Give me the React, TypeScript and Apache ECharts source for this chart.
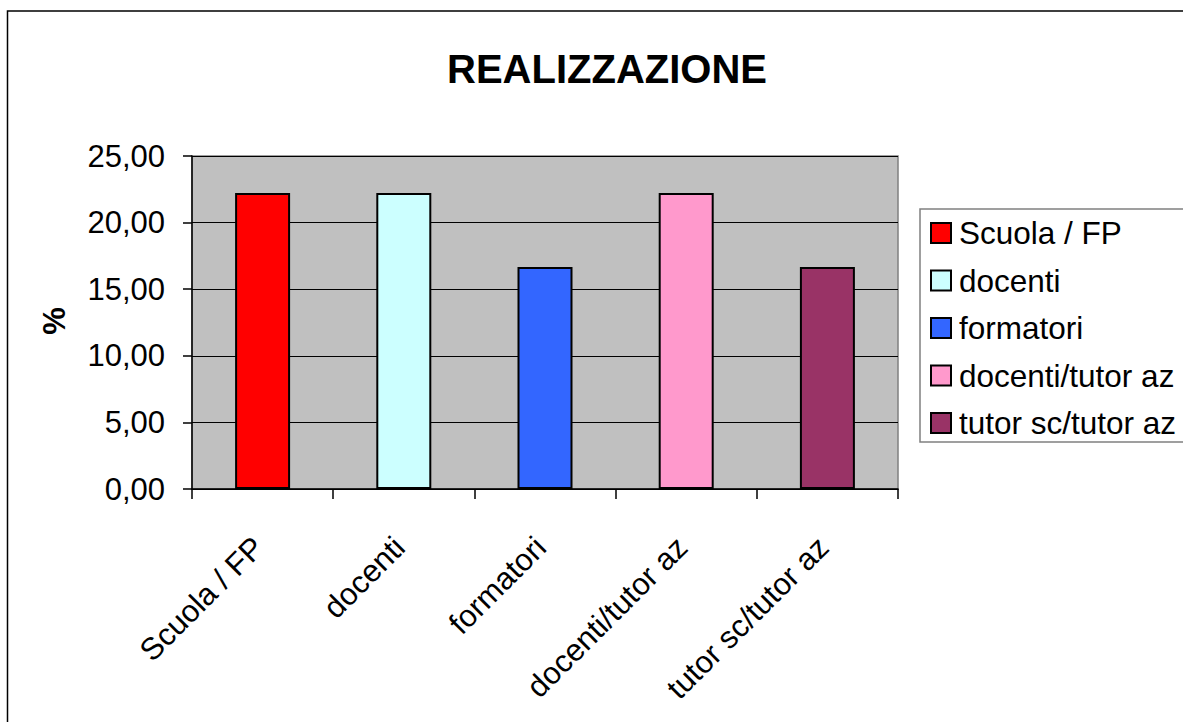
import React, { useEffect, useRef } from "react";
import * as echarts from "echarts";

const titleText = "REALIZZAZIONE";
const yAxisTitle = "%";
const categories = ["Scuola / FP", "docenti", "formatori", "docenti/tutor az", "tutor sc/tutor az"];
const values = [22.22, 22.22, 16.67, 22.22, 16.67];
const colors = ["#FF0000", "#CCFFFF", "#3366FF", "#FF99CC", "#993366"];
const yMin = 0;
const yMax = 25;
const yStep = 5;

const FONT = "'Liberation Sans', Arial, sans-serif";

export default function App() {
  const ref = useRef<HTMLDivElement>(null);
  useEffect(() => {
    if (!ref.current) return;
    const chart = echarts.init(ref.current, undefined, { renderer: "svg" });
    chart.setOption({
      animation: false,
      backgroundColor: "#ffffff",
      title: {
        text: titleText,
        left: 602,
        top: 43.5,
        textAlign: "center",
        textStyle: { fontFamily: FONT, fontSize: 40, fontWeight: "bold", color: "#000", lineHeight: 40 },
      },
      graphic: [
        {
          type: "rect",
          shape: { x: 7.5, y: 11, width: 1400, height: 900 },
          style: { fill: "none", stroke: "#000", lineWidth: 1.5 },
          silent: true,
          z: -10,
        },
        {
          type: "text",
          x: 54,
          y: 321,
          rotation: Math.PI / 2,
          style: {
            text: yAxisTitle,
            font: `bold 31px ${FONT}`,
            fill: "#000",
            textAlign: "center",
            textVerticalAlign: "middle",
          },
        },
      ],
      legend: {
        orient: "vertical",
        left: 920,
        top: 209,
        data: categories,
        icon: "rect",
        itemWidth: 20,
        itemHeight: 20,
        itemGap: 15.5,
        padding: [8, 30, 3, 10],
        backgroundColor: "#ffffff",
        borderColor: "#808080",
        borderWidth: 1.5,
        borderRadius: 0,
        textStyle: { fontFamily: FONT, fontSize: 31.5, color: "#000", lineHeight: 31, padding: [0, 0, 0, 3] },
        selectedMode: false,
      },
      grid: {
        left: 192,
        top: 156,
        right: 1183 - 898,
        bottom: 722 - 489,
        show: true,
        backgroundColor: "#C0C0C0",
        borderColor: "#808080",
        borderWidth: 1.5,
        containLabel: false,
      },
      xAxis: {
        type: "category",
        data: categories,
        axisLine: { show: true, lineStyle: { color: "#000", width: 1.5 } },
        axisTick: { show: true, length: 10, interval: 0, alignWithLabel: false, lineStyle: { color: "#000", width: 1.5 } },
        axisLabel: {
          interval: 0,
          rotate: 45,
          margin: 49,
          padding: [0, 6, 13, 0],
          fontFamily: FONT,
          fontSize: 31,
          color: "#000",
        },
        splitLine: { show: false },
      },
      yAxis: {
        type: "value",
        min: yMin,
        max: yMax,
        interval: yStep,
        axisLine: { show: true, lineStyle: { color: "#000", width: 1.5 } },
        axisTick: { show: true, length: 9, inside: false, lineStyle: { color: "#000", width: 1.5 } },
        axisLabel: {
          margin: 27,
          fontFamily: FONT,
          fontSize: 31,
          color: "#000",
          formatter: (v: number) => v.toFixed(2).replace(".", ","),
        },
        splitLine: { show: true, lineStyle: { color: "#000", width: 1 } },
      },
      series: categories.map((name, i) => ({
        name,
        type: "bar",
        stack: "all",
        barWidth: 55,
        data: categories.map((_, j) => (j === i ? values[i] : null)),
        itemStyle: { color: colors[i], borderColor: "#000", borderWidth: 2 },
      })),
    });
    return () => chart.dispose();
  }, []);
  return (
    <div
      ref={ref}
      style={{ position: "absolute", left: 0, top: 0, width: 1183, height: 722 }}
    />
  );
}
